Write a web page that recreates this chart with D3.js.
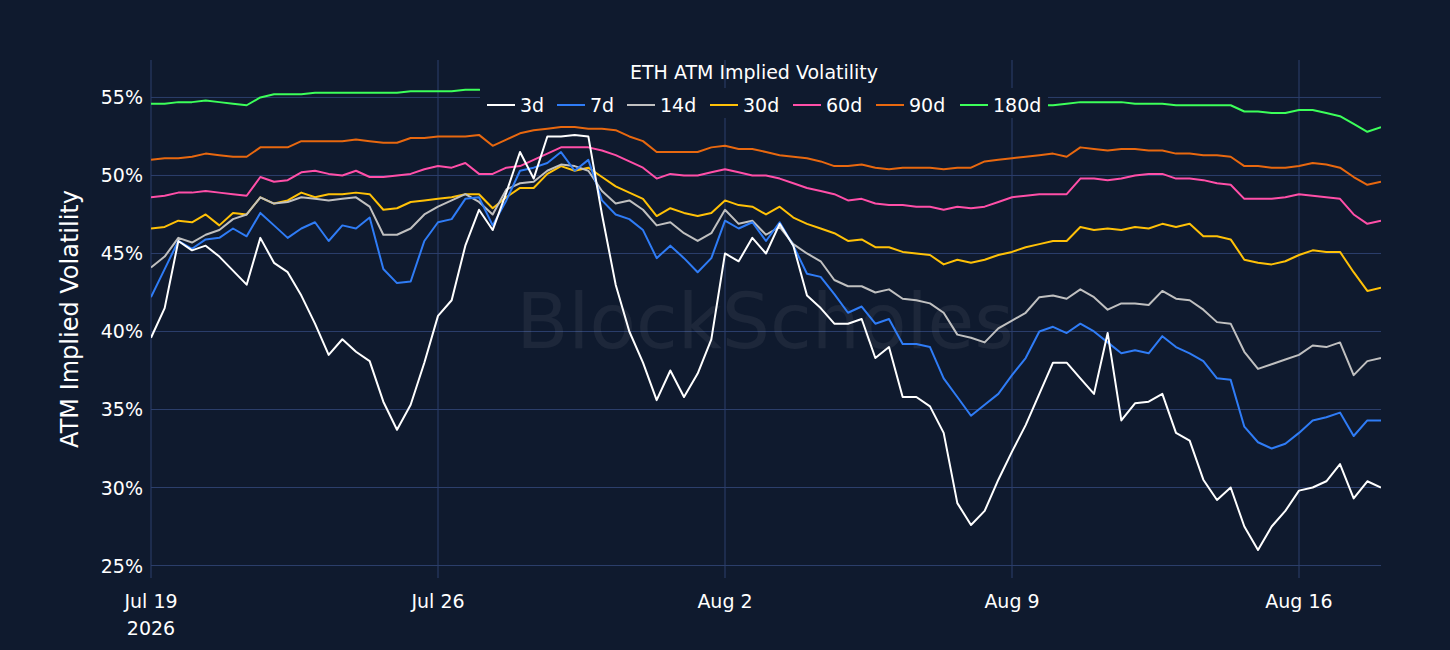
<!DOCTYPE html>
<html>
<head>
<meta charset="utf-8">
<script src="https://cdn.jsdelivr.net/npm/d3@7/dist/d3.min.js"></script>
<style>
  body { margin: 0; background: #0f1a2e; }
  text { font-family: "DejaVu Sans", sans-serif; }
</style>
</head>
<body>
<svg id="chart" width="1450" height="650"></svg>
<script>
// samples every 8 hours from Jul 19 2026 00:00
const startDate = new Date(2026, 6, 19);
const stepHours = 8;

const vol3d = [39.6,41.5,45.8,45.2,45.5,44.8,43.9,43,46,44.4,43.8,42.3,40.5,38.5,39.5,38.7,38.1,35.5,33.7,35.3,38,41,42,45.5,47.8,46.5,48.9,51.5,49.8,52.5,52.5,52.6,52.5,47.5,43,40,38,35.6,37.5,35.8,37.3,39.5,45,44.5,46,45,46.9,45.5,42.3,41.5,40.5,40.5,40.8,38.3,39,35.8,35.8,35.2,33.5,29,27.6,28.5,30.5,32.3,34,36,38,38,37,36,39.9,34.3,35.4,35.5,36,33.5,33,30.5,29.2,30,27.5,26,27.5,28.5,29.8,30,30.4,31.5,29.3,30.4,30];
const vol7d = [42.2,44,45.8,45.3,45.9,46,46.6,46.1,47.6,46.8,46,46.6,47,45.8,46.8,46.6,47.3,44,43.1,43.2,45.8,47,47.2,48.5,48.6,46.8,48.4,50.3,50.5,50.8,51.5,50.3,51,48.4,47.5,47.2,46.5,44.7,45.5,44.7,43.8,44.7,47.1,46.6,47,45.8,47,45.5,43.7,43.5,42.4,41.2,41.6,40.5,40.8,39.2,39.2,39,37,35.8,34.6,35.3,36,37.2,38.3,40,40.3,39.9,40.5,40,39.3,38.6,38.8,38.6,39.7,39,38.6,38.1,37,36.9,33.9,32.9,32.5,32.8,33.5,34.3,34.5,34.8,33.3,34.3,34.3];
const vol14d = [44.1,44.8,46,45.7,46.2,46.5,47.2,47.5,48.6,48.2,48.3,48.6,48.5,48.4,48.5,48.6,48,46.2,46.2,46.6,47.5,48,48.4,48.8,48.3,47.5,49.1,49.5,49.6,50.3,50.7,50.6,50.3,49,48.2,48.4,47.8,46.8,47,46.3,45.8,46.3,47.8,46.9,47.1,46.2,46.7,45.6,45,44.5,43.3,42.9,42.9,42.5,42.7,42.1,42,41.8,41.2,39.8,39.6,39.3,40.2,40.7,41.2,42.2,42.3,42.1,42.7,42.2,41.4,41.8,41.8,41.7,42.6,42.1,42,41.4,40.6,40.5,38.7,37.6,37.9,38.2,38.5,39.1,39,39.3,37.2,38.1,38.3];
const vol30d = [46.6,46.7,47.1,47,47.5,46.8,47.6,47.5,48.6,48.2,48.4,48.9,48.6,48.8,48.8,48.9,48.8,47.8,47.9,48.3,48.4,48.5,48.6,48.8,48.8,47.9,48.6,49.2,49.2,50.1,50.6,50.3,50.5,49.9,49.3,48.9,48.5,47.4,47.9,47.6,47.4,47.6,48.4,48.1,48,47.5,48,47.3,46.9,46.6,46.3,45.8,45.9,45.4,45.4,45.1,45,44.9,44.3,44.6,44.4,44.6,44.9,45.1,45.4,45.6,45.8,45.8,46.7,46.5,46.6,46.5,46.7,46.6,46.9,46.7,46.9,46.1,46.1,45.9,44.6,44.4,44.3,44.5,44.9,45.2,45.1,45.1,43.8,42.6,42.8];
const vol60d = [48.6,48.7,48.9,48.9,49,48.9,48.8,48.7,49.9,49.6,49.7,50.2,50.3,50.1,50,50.3,49.9,49.9,50,50.1,50.4,50.6,50.5,50.8,50.1,50.1,50.5,50.6,51,51.4,51.8,51.8,51.8,51.6,51.3,50.9,50.5,49.8,50.1,50,50,50.2,50.4,50.2,50,50,49.8,49.5,49.2,49,48.8,48.4,48.5,48.2,48.1,48.1,48,48,47.8,48,47.9,48,48.3,48.6,48.7,48.8,48.8,48.8,49.8,49.8,49.7,49.8,50,50.1,50.1,49.8,49.8,49.7,49.5,49.4,48.5,48.5,48.5,48.6,48.8,48.7,48.6,48.5,47.5,46.9,47.1];
const vol90d = [51,51.1,51.1,51.2,51.4,51.3,51.2,51.2,51.8,51.8,51.8,52.2,52.2,52.2,52.2,52.3,52.2,52.1,52.1,52.4,52.4,52.5,52.5,52.5,52.6,51.9,52.3,52.7,52.9,53,53.1,53.1,53,53,52.9,52.5,52.2,51.5,51.5,51.5,51.5,51.8,51.9,51.7,51.7,51.5,51.3,51.2,51.1,50.9,50.6,50.6,50.7,50.5,50.4,50.5,50.5,50.5,50.4,50.5,50.5,50.9,51,51.1,51.2,51.3,51.4,51.2,51.8,51.7,51.6,51.7,51.7,51.6,51.6,51.4,51.4,51.3,51.3,51.2,50.6,50.6,50.5,50.5,50.6,50.8,50.7,50.5,49.9,49.4,49.6];
const vol180d = [54.6,54.6,54.7,54.7,54.8,54.7,54.6,54.5,55,55.2,55.2,55.2,55.3,55.3,55.3,55.3,55.3,55.3,55.3,55.4,55.4,55.4,55.4,55.5,55.5,55.3,55.4,55.4,55.5,55.5,55.5,55.5,55.4,55.3,55.2,55.1,55,55,54.9,54.9,54.9,55,55,54.9,54.9,54.8,54.8,54.8,54.7,54.7,54.6,54.6,54.6,54.5,54.5,54.5,54.5,54.5,54.4,54.4,54.4,54.4,54.4,54.4,54.5,54.5,54.5,54.6,54.7,54.7,54.7,54.7,54.6,54.6,54.6,54.5,54.5,54.5,54.5,54.5,54.1,54.1,54,54,54.2,54.2,54,53.8,53.3,52.8,53.1];

const seriesNames = ["3d", "7d", "14d", "30d", "60d", "90d", "180d"];
const seriesValues = [vol3d, vol7d, vol14d, vol30d, vol60d, vol90d, vol180d];
const seriesColors = ["#ffffff", "#2f7cf6", "#c0c0c0", "#ffc107", "#ff4fa8", "#e8680f", "#3cff5a"];
const yTicks = [25, 30, 35, 40, 45, 50, 55];
const xTickDates = [new Date(2026, 6, 19), new Date(2026, 6, 26), new Date(2026, 7, 2), new Date(2026, 7, 9), new Date(2026, 7, 16)];

const svg = d3.select("#chart");
const plotLeft = 151, plotRight = 1381, plotTop = 60, plotBottom = 578;

const x = d3.scaleTime()
  .domain([startDate, new Date(2026, 7, 18)])
  .range([plotLeft, plotRight]);
const y = d3.scaleLinear().domain([24.2, 57.4]).range([plotBottom, plotTop]);

svg.append("rect").attr("width", 1450).attr("height", 650).attr("fill", "#0f1a2e");

// grid
svg.append("g").selectAll("line").data(yTicks).enter().append("line")
  .attr("x1", plotLeft).attr("x2", plotRight)
  .attr("y1", d => y(d)).attr("y2", d => y(d))
  .attr("stroke", "#2c3f6c").attr("stroke-width", 1);
svg.append("g").selectAll("line").data(xTickDates).enter().append("line")
  .attr("x1", d => x(d)).attr("x2", d => x(d))
  .attr("y1", plotTop).attr("y2", plotBottom)
  .attr("stroke", "#2c3f6c").attr("stroke-width", 1);

// watermark
svg.append("text")
  .attr("x", 765).attr("y", 348)
  .attr("text-anchor", "middle")
  .attr("font-size", 76)
  .attr("fill", "rgba(255,255,255,0.06)")
  .text("BlockScholes");

// tick labels
svg.append("g").selectAll("text").data(yTicks).enter().append("text")
  .attr("x", 143).attr("y", d => y(d) + 7)
  .attr("text-anchor", "end")
  .attr("font-size", 19).attr("fill", "#ffffff")
  .text(d => d + "%");

const fmt = d3.timeFormat("%b %-d");
svg.append("g").selectAll("text").data(xTickDates).enter().append("text")
  .attr("x", d => x(d)).attr("y", 608)
  .attr("text-anchor", "middle")
  .attr("font-size", 19).attr("fill", "#ffffff")
  .text(d => fmt(d));
svg.append("text").attr("x", x(xTickDates[0])).attr("y", 635)
  .attr("text-anchor", "middle").attr("font-size", 19).attr("fill", "#ffffff")
  .text("2026");

svg.append("text")
  .attr("transform", "translate(78," + ((plotTop + plotBottom) / 2) + ") rotate(-90)")
  .attr("text-anchor", "middle")
  .attr("font-size", 24).attr("fill", "#ffffff")
  .text("ATM Implied Volatility");

// lines
svg.append("clipPath").attr("id", "clip").append("rect")
  .attr("x", plotLeft).attr("y", plotTop)
  .attr("width", plotRight - plotLeft).attr("height", plotBottom - plotTop);

const line = d3.line()
  .x((d, i) => x(d3.timeHour.offset(startDate, i * stepHours)))
  .y(d => y(d));

const plot = svg.append("g").attr("clip-path", "url(#clip)");
// longest tenors first so the short ones sit on top
seriesValues.map((v, i) => i).reverse().forEach(i => {
  plot.append("path")
    .datum(seriesValues[i])
    .attr("d", line)
    .attr("fill", "none")
    .attr("stroke", seriesColors[i])
    .attr("stroke-width", 2)
    .attr("stroke-linejoin", "round");
});

// legend with opaque background
svg.append("rect").attr("x", 480).attr("y", 88).attr("width", 568).attr("height", 30)
  .attr("fill", "#0f1a2e");
const legendX = [487, 557, 627, 710, 793, 876, 960];
const lg = svg.append("g").selectAll("g").data(seriesNames).enter().append("g")
  .attr("transform", (d, i) => "translate(" + legendX[i] + ",105)");
lg.append("line").attr("x1", 0).attr("x2", 28).attr("y1", 0).attr("y2", 0)
  .attr("stroke", (d, i) => seriesColors[i]).attr("stroke-width", 2);
lg.append("text").attr("x", 33).attr("y", 7)
  .attr("font-size", 19).attr("fill", "#ffffff")
  .text(d => d);

svg.append("text")
  .attr("x", 754).attr("y", 79)
  .attr("text-anchor", "middle")
  .attr("font-size", 19).attr("fill", "#ffffff")
  .text("ETH ATM Implied Volatility");
</script>
</body>
</html>
